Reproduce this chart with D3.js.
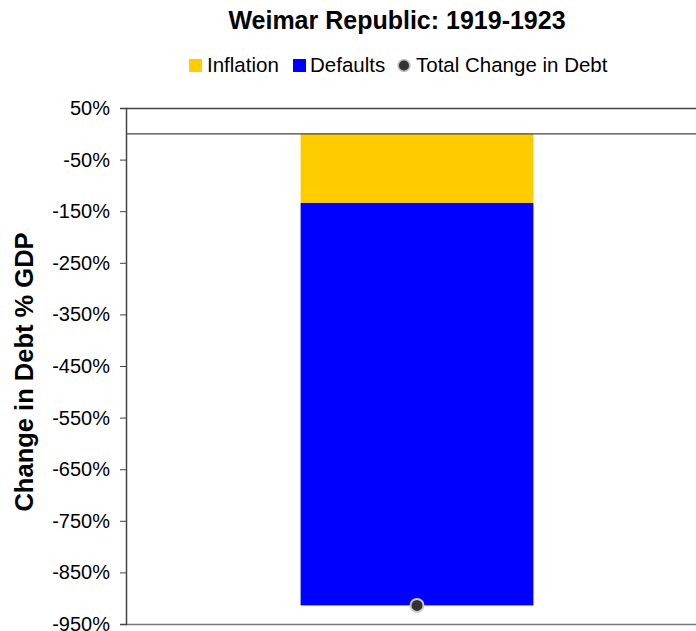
<!DOCTYPE html>
<html>
<head>
<meta charset="utf-8">
<script src="https://cdn.jsdelivr.net/npm/d3@7"></script>
<style>
	body { margin: 0; background: #fff; }
	text { font-family: "Liberation Sans", Arial, sans-serif; fill: #000; }
</style>
</head>
<body>
<div class="chart"></div>
<script>
var categories = ["Weimar Republic: 1919-1923"];
var inflation = [-134];
var defaults = [-780];
var totalChange = [-914];
var yTicks = [50, -50, -150, -250, -350, -450, -550, -650, -750, -850, -950];

var width = 696, height = 631;
var plot = {left: 126, right: 708, top: 108, bottom: 624};

var svg = d3.select(".chart").append("svg")
	.attr("width", width)
	.attr("height", height);

var y = d3.scaleLinear()
	.domain([-950, 50])
	.range([plot.bottom, plot.top]);

var x = d3.scaleBand()
	.domain(categories)
	.range([plot.left, plot.right])
	.padding(0.4286);

// title
svg.append("text")
	.attr("x", 397)
	.attr("y", 29)
	.attr("text-anchor", "middle")
	.attr("font-weight", "bold")
	.attr("font-size", 25)
	.text(categories[0]);

// legend
var legend = svg.append("g");
var items = [
	{label: "Inflation", color: "#ffcc00", type: "rect", x: 189, tx: 207},
	{label: "Defaults", color: "#0000ff", type: "rect", x: 293, tx: 310},
	{label: "Total Change in Debt", color: "#333", type: "dot", x: 398, tx: 416}
];
items.map(function(it) {
	if (it.type === "rect") {
		legend.append("rect")
			.attr("x", it.x).attr("y", 59)
			.attr("width", 13).attr("height", 13)
			.attr("fill", it.color);
	} else {
		legend.append("circle")
			.attr("cx", it.x + 6).attr("cy", 65.5)
			.attr("r", 5.8)
			.attr("fill", it.color)
			.attr("stroke", "#bbb")
			.attr("stroke-width", 1.5);
	}
	legend.append("text")
		.attr("x", it.tx)
		.attr("y", 72)
		.attr("font-size", 20.5)
		.text(it.label);
});

// top border and bottom border
svg.append("line")
	.attr("x1", plot.left).attr("x2", width)
	.attr("y1", plot.top + 0.5).attr("y2", plot.top + 0.5)
	.attr("stroke", "#444").attr("stroke-width", 1.3);
svg.append("line")
	.attr("x1", plot.left).attr("x2", width)
	.attr("y1", plot.bottom + 0.5).attr("y2", plot.bottom + 0.5)
	.attr("stroke", "#777").attr("stroke-width", 1.5);

// bars
var g = svg.append("g");
g.selectAll(".inflation")
	.data(categories)
	.enter().append("rect")
	.attr("x", function(d) { return x(d); })
	.attr("width", x.bandwidth())
	.attr("y", y(0))
	.attr("height", function(d, i) { return y(inflation[i]) - y(0); })
	.attr("fill", "#ffcc00");
g.selectAll(".defaults")
	.data(categories)
	.enter().append("rect")
	.attr("x", function(d) { return x(d); })
	.attr("width", x.bandwidth())
	.attr("y", function(d, i) { return y(inflation[i]); })
	.attr("height", function(d, i) { return y(inflation[i] + defaults[i]) - y(inflation[i]); })
	.attr("fill", "#0000ff");

// zero line
svg.append("line")
	.attr("x1", plot.left).attr("x2", width)
	.attr("y1", y(0)).attr("y2", y(0))
	.attr("stroke", "#444").attr("stroke-width", 1.3);

// total dot
g.selectAll(".total")
	.data(categories)
	.enter().append("circle")
	.attr("cx", function(d) { return x(d) + x.bandwidth() / 2; })
	.attr("cy", function(d, i) { return y(totalChange[i]); })
	.attr("r", 6.5)
	.attr("fill", "#333")
	.attr("stroke", "#ccc")
	.attr("stroke-width", 2);

// y axis
var axis = d3.axisLeft(y)
	.tickValues(yTicks)
	.tickSize(6)
	.tickFormat(function(d) { return d + "%"; });
var ax = svg.append("g")
	.attr("transform", "translate(" + plot.left + ",0)")
	.call(axis);
ax.select(".domain").attr("stroke", "#444").attr("stroke-width", 1.5);
ax.selectAll(".tick line").attr("stroke", "#444");
ax.selectAll(".tick text")
	.attr("font-size", 20)
	.attr("font-family", "Liberation Sans, Arial, sans-serif")
	.attr("x", -16)
	.attr("fill", "#000");

// y label
svg.append("text")
	.attr("transform", "translate(33,372) rotate(-90)")
	.attr("text-anchor", "middle")
	.attr("font-weight", "bold")
	.attr("font-size", 25.5)
	.text("Change in Debt % GDP");
</script>
</body>
</html>
